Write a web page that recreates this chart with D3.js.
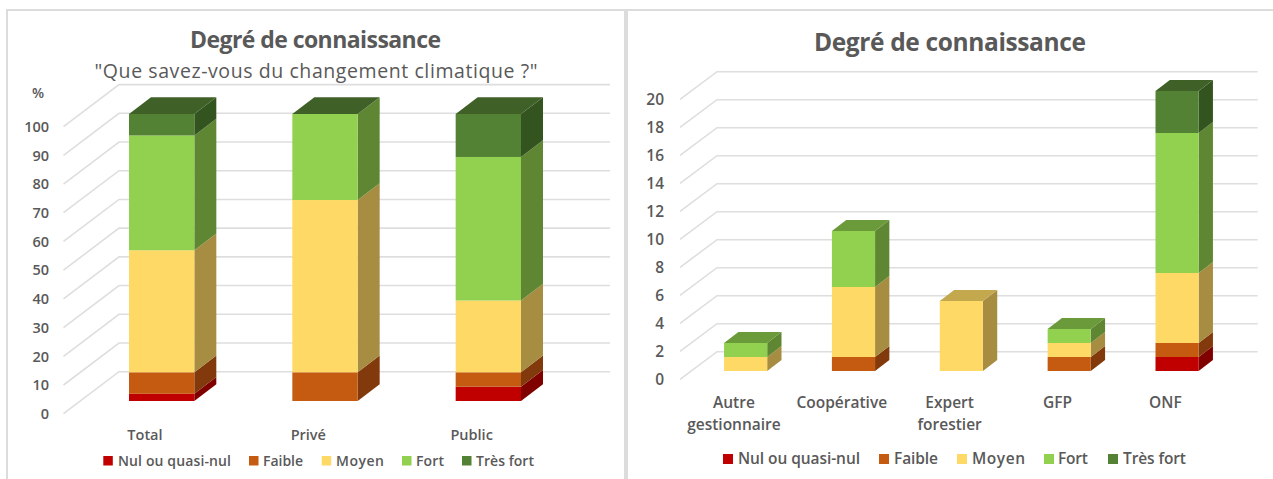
<!DOCTYPE html>
<html><head><meta charset="utf-8">
<script src="https://cdnjs.cloudflare.com/ajax/libs/d3/7.8.5/d3.min.js"></script>
<style>
html,body{margin:0;padding:0;background:#fff}
svg{display:block}
text{font-family:"Open Sans",sans-serif;fill:#595959}
</style></head><body><svg id="c" width="1273" height="479"></svg>
<script>
const seriesNames=["Nul ou quasi-nul","Faible","Moyen","Fort","Très fort"];
const frontColors=["#C00000","#C55A11","#FFD966","#92D050","#548235"];
const sideColors=["#800000","#82390B","#A68D42","#5F8733","#34541F"];
const topColors=["#990000","#9E480E","#C4A84E","#6A9A3A","#3F6127"];

const leftCategories=["Total","Privé","Public"];
const leftNul=[2.5,0,5];
const leftFaible=[7.5,10,5];
const leftMoyen=[42.5,60,25];
const leftFort=[40,30,50];
const leftTresFort=[7.5,0,15];
const leftTicks=[0,10,20,30,40,50,60,70,80,90,100];

const rightCategories=[["Autre","gestionnaire"],["Coopérative"],["Expert","forestier"],["GFP"],["ONF"]];
const rightNul=[null,null,null,null,1];
const rightFaible=[null,1,null,1,1];
const rightMoyen=[1,5,5,1,5];
const rightFort=[1,4,null,1,10];
const rightTresFort=[null,null,null,null,3];
const rightTicks=[0,2,4,6,8,10,12,14,16,18,20];

const svg=d3.select("#c");

// panel frames
const frame=svg.append("g").attr("fill","none").attr("stroke","#DCDCDC");
frame.append("path").attr("stroke-width",2).attr("d",d3.line()([[7,479],[7,10],[1273,10]]));
frame.append("path").attr("stroke-width",4).attr("d",d3.line()([[626,10],[626,479]]));

function chart(o){
  const g=svg.append("g");
  const y=d3.scaleLinear().domain(o.domain).range(o.yRange);
  const x=d3.scaleBand().domain(o.cats.map((_,i)=>i)).range(o.xRange).paddingInner(o.pi).paddingOuter(o.po);
  const w=x.bandwidth();
  const gl=g.append("g").attr("fill","none").attr("stroke","#DEDEDE").attr("stroke-width",1.6);
  o.ticks.forEach(t=>{
    const yb=y(t);
    gl.append("path").attr("d",d3.line()([[o.axisX,yb+o.wallDy],[o.wallX,yb],[o.wallEnd,yb]]));
  });
  // axis labels
  o.ticks.forEach(t=>{
    g.append("text").attr("x",o.labelX).attr("y",y(t)+o.wallDy+5.3).attr("text-anchor","end")
     .attr("font-size",o.tickSize).attr("font-weight",600).text(t);
  });
  // bars
  o.cats.forEach((c,i)=>{
    const vals=o.values.map(s=>s[i]);
    let lastIdx=-1; vals.forEach((v,k)=>{if(v!==null)lastIdx=k;});
    const x0=x(i), x1=x0+w;
    let sum=0;
    vals.forEach((v,k)=>{
      if(v===null||v===0) return;
      const a=y(sum)+o.barDy, b=y(sum+v)+o.barDy;
      sum+=v;
      g.append("path").attr("fill",sideColors[k]).attr("d",d3.line()([[x1,a],[x1+o.dx,a-o.dy],[x1+o.dx,b-o.dy],[x1,b]])+"Z");
      g.append("rect").attr("fill",frontColors[k]).attr("x",x0).attr("width",w).attr("y",b).attr("height",a-b);
    });
    const t=y(sum)+o.barDy;
    g.append("path").attr("fill",topColors[lastIdx]).attr("d",d3.line()([[x0,t],[x0+o.dx,t-o.dy],[x1+o.dx,t-o.dy],[x1,t]])+"Z");
    // category label
    c.forEach((line,j)=>{
      g.append("text").attr("x",x0+w/2+o.catDx).attr("y",o.catY+j*o.catLh).attr("text-anchor","middle")
       .attr("font-size",o.catSize).attr("font-weight",600).text(line);
    });
  });
  // legend
  seriesNames.forEach((n,k)=>{
    const l=o.legend[k];
    g.append("rect").attr("x",l[0]).attr("y",o.legendY-5).attr("width",o.legSq).attr("height",o.legSq).attr("fill",frontColors[k]);
    g.append("text").attr("x",l[1]).attr("y",o.legendY+5).attr("font-size",o.legSize).attr("font-weight",600)
     .attr("textLength",l[2]).attr("lengthAdjust","spacing").text(n);
  });
}

chart({cats:leftCategories.map(c=>[c]),
  values:[leftNul,leftFaible,leftMoyen,leftFort,leftTresFort],
  domain:[0,100],yRange:[371.7,84.6],xRange:[80,570],pi:0.6,po:0.3,
  ticks:leftTicks,
  axisX:63.5,wallX:119,wallEnd:610,wallDy:42,labelX:49,tickSize:14.5,
  barDy:29.3,dx:22,dy:16.7,
  catY:440,catLh:18,catSize:14.5,catDx:-16.7,
  legendY:461,legSq:9.5,legSize:14,
  legend:[[103.3,118,113],[249,263,40],[321.7,336,48],[402,416,28],[462,476,58]]});

chart({cats:rightCategories,
  values:[rightNul,rightFaible,rightMoyen,rightFort,rightTresFort],
  domain:[0,20],yRange:[351.7,71.7],xRange:[691.7,1231],pi:0.6,po:0.3,
  ticks:rightTicks,
  axisX:680,wallX:717,wallEnd:1257.7,wallDy:27.7,labelX:664,tickSize:15.5,
  barDy:19.3,dx:14.3,dy:11,
  catY:408,catLh:21.5,catSize:15.5,catDx:-11.7,
  legendY:459,legSq:10,legSize:15.5,
  legend:[[723,738,122],[879,894,44],[957,972,53],[1044,1058,30],[1108,1123,63]]});

// left titles
svg.append("text").attr("x",315.5).attr("y",48).attr("text-anchor","middle").attr("font-size",23).attr("font-weight",700).attr("textLength",251).text("Degré de connaissance");
svg.append("text").attr("x",316).attr("y",77.5).attr("text-anchor","middle").attr("font-size",19.5).attr("textLength",443).text("\"Que savez-vous du changement climatique ?\"");
svg.append("text").attr("x",38).attr("y",98).attr("text-anchor","middle").attr("font-size",14).attr("font-weight",600).text("%");
// right title
svg.append("text").attr("x",950).attr("y",51).attr("text-anchor","middle").attr("font-size",24.5).attr("font-weight",700).attr("textLength",272).text("Degré de connaissance");
</script></body></html>
